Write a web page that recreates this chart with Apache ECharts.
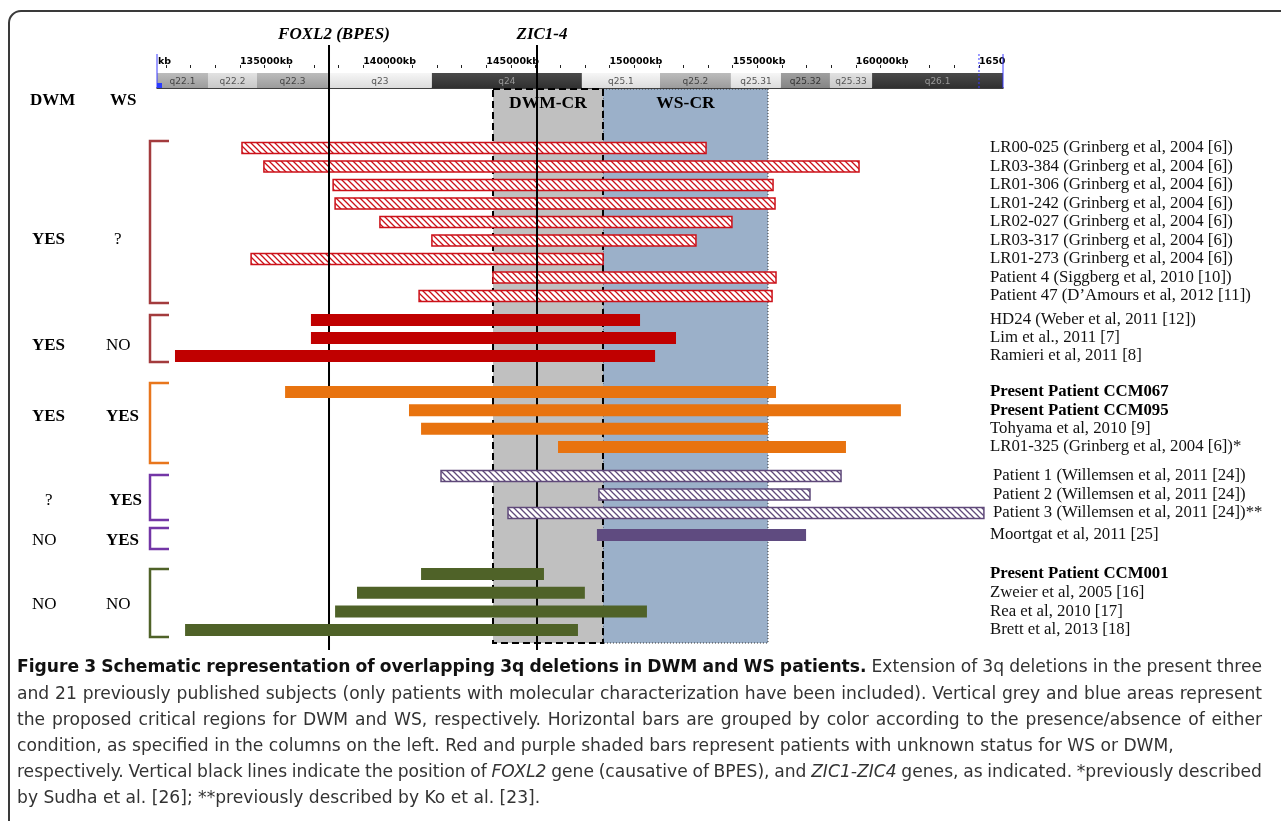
<!DOCTYPE html>
<html><head><meta charset="utf-8">
<script src="https://cdn.jsdelivr.net/npm/echarts@6/dist/echarts.min.js"></script>
<style>html,body{margin:0;padding:0;background:#fff}#c{width:1281px;height:821px}</style>
</head><body><div id="c"></div>
<script>
// ---------------- DATA ----------------
const axisMin = 131630, axisMax = 165975;           // visible chromosome window (kb)
const tickValues = [135000,140000,145000,150000,155000,160000,165000];
const tickLabels = ['135000kb','140000kb','145000kb','150000kb','155000kb','160000kb','1650'];
const minorTicks = [132000,133000,134000,135000,136000,137000,138000,139000,140000,141000,142000,143000,144000,145000,146000,147000,148000,149000,150000,151000,152000,153000,154000,155000,156000,157000,158000,159000,160000,161000,162000,163000,164000,165000];
const bandNames = ['q22.1','q22.2','q22.3','q23','q24','q25.1','q25.2','q25.31','q25.32','q25.33','q26.1'];
const bandStart = [131630,133700,135690,138570,142790,148880,152050,154930,156960,158950,160660];
const bandEnd   = [133700,135690,138570,142790,148880,152050,154930,156960,158950,160660,165975];
const bandStain = ['gpos50','gpos25','gpos50','gneg','gpos100','gneg','gpos50','gneg','gpos75','gpos25','gpos100'];
const geneNames = ['FOXL2 (BPES)','ZIC1-4'];
const genePos   = [138613,147057];
const crNames = ['DWM-CR','WS-CR'];
const crStart = [145271,149736];
const crEnd   = [149736,156434];

const g1Labels = ['LR00-025 (Grinberg et al, 2004 [6])','LR03-384 (Grinberg et al, 2004 [6])','LR01-306 (Grinberg et al, 2004 [6])','LR01-242 (Grinberg et al, 2004 [6])','LR02-027 (Grinberg et al, 2004 [6])','LR03-317 (Grinberg et al, 2004 [6])','LR01-273 (Grinberg et al, 2004 [6])','Patient 4 (Siggberg et al, 2010 [10])','Patient 47 (D\u2019Amours et al, 2012 [11])'];
const g1Start = [135080,135970,138780,138860,140680,142790,135450,145270,142270];
const g1End   = [153920,160130,156640,156720,154970,153510,149740,156760,156600];
const g2Labels = ['HD24 (Weber et al, 2011 [12])','Lim et al., 2011 [7]','Ramieri et al, 2011 [8]'];
const g2Start = [137880,137880,132360];
const g2End   = [151240,152700,151850];
const g3Labels = ['Present Patient CCM067','Present Patient CCM095','Tohyama et al, 2010 [9]','LR01-325 (Grinberg et al, 2004 [6])*'];
const g3Start = [136830,141860,142350,147910];
const g3End   = [156760,161830,156430,159600];
const g4Labels = ['Patient 1 (Willemsen et al, 2011 [24])','Patient 2 (Willemsen et al, 2011 [24])','Patient 3 (Willemsen et al, 2011 [24])**'];
const g4Start = [143160,149570,145880];
const g4End   = [159400,158140,165200];
const g5Labels = ['Moortgat et al, 2011 [25]'];
const g5Start = [149490];
const g5End   = [157980];
const g6Labels = ['Present Patient CCM001','Zweier et al, 2005 [16]','Rea et al, 2010 [17]','Brett et al, 2013 [18]'];
const g6Start = [142350,139750,138860,132770];
const g6End   = [147340,149000,151520,148720];
const presentPatients = ['Present Patient CCM067','Present Patient CCM095','Present Patient CCM001'];
const groupDWM = ['YES','YES','YES','?','NO','NO'];
const groupWS  = ['?','NO','YES','YES','YES','NO'];

const captionLines = [
  '{b|Figure 3 Schematic representation of overlapping 3q deletions in DWM and WS patients.} Extension of 3q deletions in the present three',
  'and 21 previously published subjects (only patients with molecular characterization have been included). Vertical grey and blue areas represent',
  'the proposed critical regions for DWM and WS, respectively. Horizontal bars are grouped by color according to the presence/absence of either',
  'condition, as specified in the columns on the left. Red and purple shaded bars represent patients with unknown status for WS or DWM,',
  'respectively. Vertical black lines indicate the position of {i|FOXL2} gene (causative of BPES), and {i|ZIC1-ZIC4} genes, as indicated. *previously described',
  'by Sudha et al. [26]; **previously described by Ko et al. [23].'
];

// ---------------- STYLE / LAYOUT ----------------
const SERIF = '"Liberation Serif","Times New Roman",serif';
const CAPFONT = '"DejaVu Sans Condensed","Liberation Sans Narrow","Arial Narrow",sans-serif';
const captionJustified = [true, true, true, false, true, false];
const CAP_RIGHT = 1262;
const captionFreeRight = [0, 0, 0, 1116, 0, 598];   // right end of the ragged lines (layout)
const stainStyle = {
  gneg:   {top:'#f6f6f6', bot:'#dcdcdc', text:'#555'},
  gpos25: {top:'#e2e2e2', bot:'#c8c8c8', text:'#555'},
  gpos50: {top:'#bcbcbc', bot:'#9c9c9c', text:'#444'},
  gpos75: {top:'#a0a0a0', bot:'#858585', text:'#333'},
  gpos100:{top:'#4a4a4a', bot:'#303030', text:'#999'}
};
const groups = [
  {labels:g1Labels, start:g1Start, end:g1End, top:138.75, pitch:18.5, color:'#cc1119', hatch:true,  z:3, margin:-13, bracket:[141,303], bcol:'#a33b3d', labelY:240},
  {labels:g2Labels, start:g2Start, end:g2End, top:311,    pitch:18,   color:'#c00000', hatch:false, z:5, margin:-13, bracket:[315,362], bcol:'#a33b3d', labelY:346},
  {labels:g3Labels, start:g3Start, end:g3End, top:382.8,  pitch:18.33,color:'#e8730f', hatch:false, z:5, margin:-13, bracket:[383,463], bcol:'#e8761c', labelY:417},
  {labels:g4Labels, start:g4Start, end:g4End, top:466.75, pitch:18.5, color:'#5f497a', hatch:true,  z:5, margin:-10, bracket:[475,520], bcol:'#7336a6', labelY:501},
  {labels:g5Labels, start:g5Start, end:g5End, top:526,    pitch:18,   color:'#5f4b80', hatch:false, z:5, margin:-13, bracket:[528,549], bcol:'#7336a6', labelY:541},
  {labels:g6Labels, start:g6Start, end:g6End, top:564.7,  pitch:18.67,color:'#4f6228', hatch:false, z:5, margin:-13, bracket:[569,637], bcol:'#4f6228', labelY:605}
];
const GL = 157, GW = 846;
const LABEL_SIZE = 16.8;

function hatchPattern(color){
  const c = document.createElement('canvas'); c.width = 6; c.height = 6;
  const x = c.getContext('2d');
  x.fillStyle = '#fff'; x.fillRect(0,0,6,6);
  x.strokeStyle = color; x.lineWidth = 1.3;
  x.beginPath();
  x.moveTo(-1,-1); x.lineTo(7,7);
  x.moveTo(-1,5); x.lineTo(1,7);
  x.moveTo(5,-1); x.lineTo(7,1);
  x.stroke();
  return {image:c, repeat:'repeat'};
}

const chart = echarts.init(document.getElementById('c'), null, {renderer:'canvas'});

const grids = [
  {left:GL, width:GW, top:73, height:15, outerBoundsMode:'none'},
  {left:GL, width:GW, top:89, height:554, outerBoundsMode:'none'},
  {left:GL, width:GW, top:45, height:605, outerBoundsMode:'none'}
];
const xAxes = [
  {gridIndex:0, type:'value', min:axisMin, max:axisMax, position:'top', offset:5,
   axisLine:{show:true, lineStyle:{color:'#000', width:1.5}},
   axisTick:{show:true, customValues:tickValues, length:5, lineStyle:{color:'#000', width:1.5}},
   axisLabel:{show:true, customValues:tickValues, formatter:(v)=>tickLabels[tickValues.indexOf(v)] || '', align:'left', margin:1,
     fontSize:9.5, fontWeight:'bold', fontFamily:'DejaVu Sans', color:'#000'},
   splitLine:{show:false}},
  {gridIndex:0, type:'value', min:axisMin, max:axisMax, position:'top', offset:5,
   axisLine:{show:false}, axisTick:{show:true, customValues:minorTicks, length:3, lineStyle:{color:'#222', width:1}},
   axisLabel:{show:false}, splitLine:{show:false}},
  {gridIndex:1, type:'value', min:axisMin, max:axisMax, show:false},
  {gridIndex:2, type:'value', min:axisMin, max:axisMax, show:false}
];
const yAxes = [
  {gridIndex:0, type:'value', min:0, max:1, show:false},
  {gridIndex:1, type:'value', min:0, max:1, show:false},
  {gridIndex:2, type:'value', min:0, max:1, show:false}
];
const series = [];

// cytoband ideogram
series.push({
  type:'custom', xAxisIndex:0, yAxisIndex:0, z:2, silent:true,
  data: bandStart.map((s,i)=>[s, bandEnd[i], i]),
  encode:{x:[0,1]},
  renderItem:(params, api)=>{
    const cs = params.coordSys, i = api.value(2);
    const x0 = api.coord([api.value(0),0])[0], x1 = api.coord([api.value(1),0])[0];
    const st = stainStyle[bandStain[i]];
    return {type:'group', children:[
      {type:'rect', shape:{x:x0, y:cs.y, width:x1-x0, height:cs.height},
       style:{fill:new echarts.graphic.LinearGradient(0,0,0,1,[{offset:0,color:st.top},{offset:1,color:st.bot}])}},
      {type:'text', style:{text:bandNames[i], x:(x0+x1)/2, y:cs.y+cs.height/2+1, align:'center', verticalAlign:'middle',
        textAlign:'center', textVerticalAlign:'middle', fontSize:9, fontFamily:'DejaVu Sans', fill:st.text}}
    ]};
  }
});
// viewer window markers (left edge, 165000 mark, right edge)
series.push({
  type:'custom', xAxisIndex:0, yAxisIndex:0, z:2, silent:true,
  data:[[axisMin,0],[165000,1],[axisMax,0]], encode:{x:0},
  renderItem:(params, api)=>{
    const cs = params.coordSys, x = api.coord([api.value(0),0])[0];
    const dotted = api.value(1) === 1;
    const ch = [{type:'line', shape:{x1:x, y1:cs.y-19, x2:x, y2:cs.y+cs.height},
      style:{stroke:'#3a3aff', lineWidth:1, lineDash: dotted ? [2,2] : null}}];
    if (params.dataIndex === 0) ch.push({type:'rect', shape:{x:x, y:cs.y+cs.height-5, width:5, height:5}, style:{fill:'#2a3cff'}});
    return {type:'group', children:ch};
  }
});
// critical regions
series.push({
  type:'custom', xAxisIndex:2, yAxisIndex:1, z:1, silent:true,
  data: crStart.map((s,i)=>[s, crEnd[i], i]), encode:{x:[0,1]},
  renderItem:(params, api)=>{
    const cs = params.coordSys, i = api.value(2);
    const x0 = api.coord([api.value(0),0])[0], x1 = api.coord([api.value(1),0])[0];
    const dwm = i === 0;
    return {type:'group', children:[
      {type:'rect', z2: dwm ? 3 : 1, shape:{x:x0, y:cs.y, width:x1-x0, height:cs.height},
       style:{fill: dwm ? '#c0c0c0' : '#9bb0c9', stroke: dwm ? '#000' : '#333', lineWidth: dwm ? 2 : 1, lineDash: dwm ? [7,4] : [1,2]}},
      {type:'text', z2:5, style:{text:crNames[i], x:(x0+x1)/2, y:cs.y+14, align:'center', verticalAlign:'middle',
        textAlign:'center', textVerticalAlign:'middle', fontSize:17.5, fontWeight:'bold', fontFamily:SERIF, fill:'#000'}}
    ]};
  }
});
// gene lines
series.push({
  type:'custom', xAxisIndex:3, yAxisIndex:2, z:4, silent:true,
  data: genePos.map((p,i)=>[p, i]), encode:{x:0},
  renderItem:(params, api)=>{
    const cs = params.coordSys, x = api.coord([api.value(0),0])[0];
    return {type:'group', children:[
      {type:'line', shape:{x1:x, y1:cs.y, x2:x, y2:cs.y+cs.height}, style:{stroke:'#000', lineWidth:2}},
      {type:'text', style:{text:geneNames[api.value(1)], x:x+5, y:cs.y-10, align:'center', verticalAlign:'middle',
        textAlign:'center', textVerticalAlign:'middle', fontSize:17, fontWeight:'bold', fontStyle:'italic', fontFamily:SERIF, fill:'#000'}}
    ]};
  }
});

// deletion groups
groups.forEach((g, gi)=>{
  const n = g.labels.length;
  const gIdx = grids.length, xIdx = xAxes.length, yIdx = yAxes.length;
  grids.push({left:GL, width:GW, top:g.top, height:g.pitch*n, outerBoundsMode:'none'});
  xAxes.push({gridIndex:gIdx, type:'value', min:axisMin, max:axisMax, show:false});
  yAxes.push({gridIndex:gIdx, type:'category', data:g.labels, inverse:true, position:'right',
    axisLine:{show:false}, axisTick:{show:false}, splitLine:{show:false},
    axisLabel:{show:true, interval:0, margin:g.margin, align:'left', fontSize:LABEL_SIZE, fontFamily:SERIF, color:'#111',
      formatter:(v)=> presentPatients.indexOf(v) >= 0 ? '{b|'+v+'}' : v,
      rich:{b:{fontWeight:'bold', fontSize:LABEL_SIZE, fontFamily:SERIF, color:'#000'}}}});
  const fill = g.hatch ? hatchPattern(g.color) : g.color;
  const h = g.hatch ? 11 : 12;
  series.push({
    type:'custom', xAxisIndex:xIdx, yAxisIndex:yIdx, z:g.z, silent:true,
    data: g.start.map((s,i)=>[s, g.end[i], i]), encode:{x:[0,1], y:2},
    renderItem:(params, api)=>{
      const a = api.coord([api.value(0), api.value(2)]);
      const b = api.coord([api.value(1), api.value(2)]);
      return {type:'rect', shape:{x:a[0], y:a[1]-h/2, width:b[0]-a[0], height:h},
        style: g.hatch ? {fill:fill, stroke:g.color, lineWidth:1.5} : {fill:fill}};
    }
  });
});

// ---------------- GRAPHIC (frame, brackets, left columns, caption) ----------------
const graphic = [];
graphic.push({type:'rect', z:0, silent:true, shape:{x:9, y:11, width:1400, height:1000, r:12}, style:{fill:null, stroke:'#3a3a3a', lineWidth:2}});
graphic.push({type:'text', z:10, style:{text:'kb', x:158, y:62, fontSize:9.5, fontWeight:'bold', fontFamily:'DejaVu Sans', fill:'#000', align:'left', verticalAlign:'middle', textAlign:'left', textVerticalAlign:'middle'}});
const headTxt = (t, x, y, bold) => ({type:'text', z:10, style:{text:t, x:x, y:y, fontSize:17, fontWeight: bold ? 'bold' : 'normal',
  fontFamily:SERIF, fill:'#000', align:'left', verticalAlign:'middle', textAlign:'left', textVerticalAlign:'middle'}});
graphic.push(headTxt('DWM', 30, 101, true));
graphic.push(headTxt('WS', 110, 101, true));
groups.forEach((g, gi)=>{
  const b0 = g.bracket[0], b1 = g.bracket[1];
  graphic.push({type:'polyline', z:10, shape:{points:[[169,b0],[150,b0],[150,b1],[169,b1]]}, style:{stroke:g.bcol, lineWidth:2.5, fill:null}});
  const d = groupDWM[gi], w = groupWS[gi];
  graphic.push(headTxt(d, d === '?' ? 45 : 32, g.labelY, d === 'YES'));
  graphic.push(headTxt(w, w === '?' ? 114 : (gi === 3 ? 109 : 106), g.labelY, w === 'YES'));
});

// caption: words laid out with a common horizontal scale, justified lines get spread spaces
const CAPSIZE = 17, CAPLEFT = 17;
const mctx = document.createElement('canvas').getContext('2d');
function tokens(t){
  const out = []; const re = /\{(b|i)\|([^}]*)\}/g; let m, last = 0;
  const push = (s, st) => s.split(' ').forEach((w, k) => { if (w.length) out.push({w, st}); });
  while ((m = re.exec(t))) { push(t.slice(last, m.index), 'n'); push(m[2], m[1]); last = re.lastIndex; }
  push(t.slice(last), 'n');
  return out;
}
function fontOf(st){ return `${st === 'i' ? 'italic' : 'normal'} ${st === 'b' ? 'bold' : 'normal'} ${CAPSIZE}px ${CAPFONT}`; }
function measureWord(tok){ mctx.font = fontOf(tok.st); return mctx.measureText(tok.w).width; }
function spaceW(st){ mctx.font = fontOf(st); return mctx.measureText(' ').width; }
const capTokens = captionLines.map(tokens);
const natWidth = capTokens.map(ts => ts.reduce((a, t) => a + measureWord(t), 0) + (ts.length - 1) * spaceW('n'));
// common scale from the ragged lines
const sx = ((captionFreeRight[3] - CAPLEFT) + (captionFreeRight[5] - CAPLEFT)) / (natWidth[3] + natWidth[5]);
capTokens.forEach((ts, li) => {
  const y = 668 + li * 26.2;
  const wordsW = ts.map(t => measureWord(t) * sx);
  const total = wordsW.reduce((a, b) => a + b, 0);
  let gap = spaceW('n') * sx;
  if (captionJustified[li] && ts.length > 1) gap = (CAP_RIGHT - CAPLEFT - total) / (ts.length - 1);
  let x = CAPLEFT;
  ts.forEach((t, k) => {
    graphic.push({type:'text', z:10, x:x, y:y, scaleX:sx, silent:true,
      style:{text:t.w, x:0, y:0, fontSize:CAPSIZE, fontFamily:CAPFONT,
        fontWeight: t.st === 'b' ? 'bold' : 'normal', fontStyle: t.st === 'i' ? 'italic' : 'normal',
        fill: t.st === 'b' ? '#111' : '#333', align:'left', verticalAlign:'middle', textAlign:'left', textVerticalAlign:'middle'}});
    x += wordsW[k] + gap;
  });
});

chart.setOption({
  animation:false,
  backgroundColor:'#fff',
  grid:grids, xAxis:xAxes, yAxis:yAxes, series:series, graphic:graphic
});
</script></body></html>
